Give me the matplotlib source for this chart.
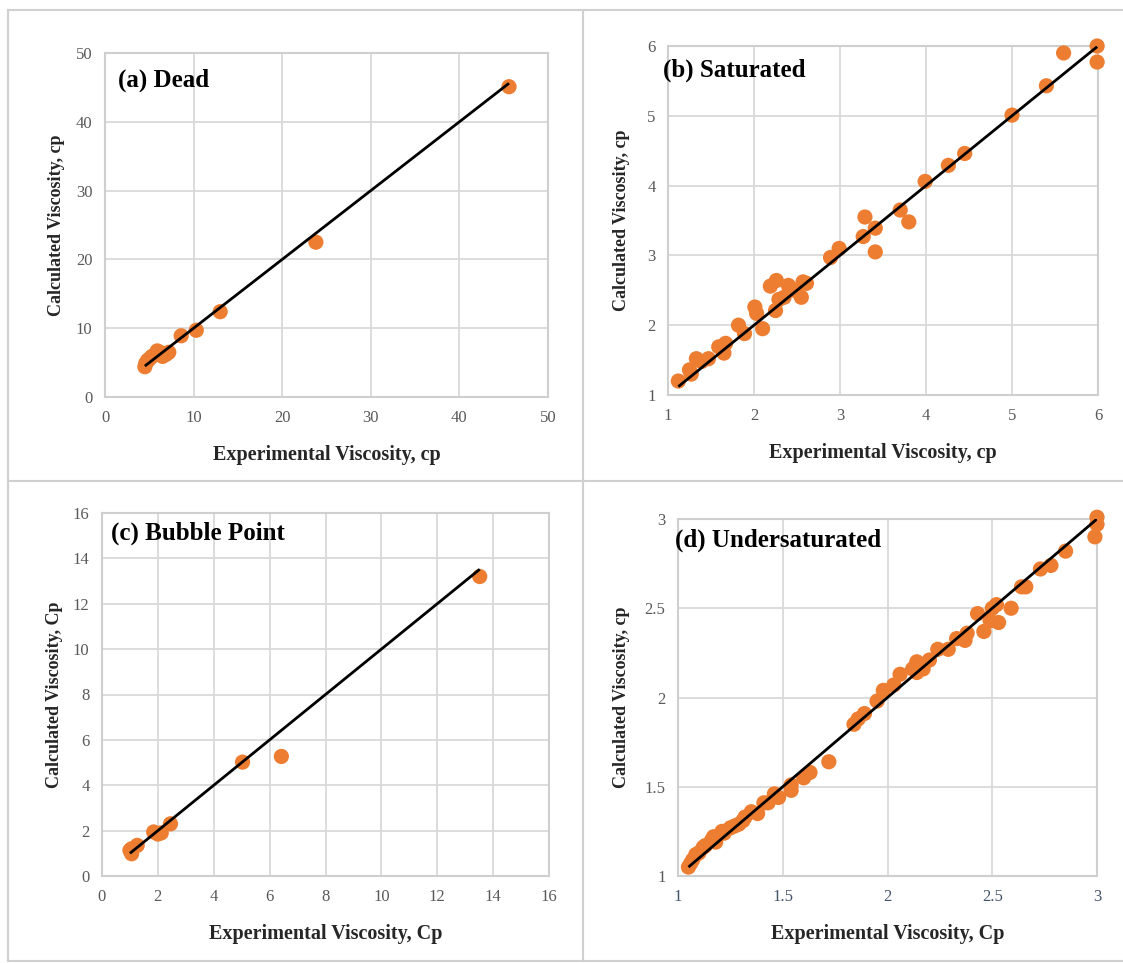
import matplotlib
matplotlib.use("Agg")
import matplotlib.pyplot as plt
from matplotlib.lines import Line2D
import numpy as np

plt.rcParams['font.family'] = ['Liberation Serif', 'DejaVu Serif']

# ---------------- data ----------------
dead_exp = [4.5, 4.6, 4.8, 5.0, 5.3, 5.6, 5.9, 6.2, 6.5, 6.9, 7.2, 8.6, 10.3, 13.0, 23.8, 45.6]
dead_calc = [4.4, 4.9, 5.3, 5.5, 5.9, 6.1, 6.7, 6.5, 5.9, 6.2, 6.5, 8.9, 9.7, 12.4, 22.5, 45.1]

sat_exp = [1.12, 1.25, 1.27, 1.33, 1.39, 1.47, 1.59, 1.65, 1.67, 1.82, 1.89, 2.01, 2.03,
           2.10, 2.19, 2.26, 2.25, 2.29, 2.35, 2.40, 2.47, 2.55, 2.57, 2.61, 2.89, 2.99,
           3.27, 3.29, 3.41, 3.41, 3.70, 3.80, 3.99, 4.26, 4.45, 5.00, 5.40, 5.60, 5.99, 5.99]
sat_calc = [1.20, 1.36, 1.30, 1.52, 1.48, 1.52, 1.69, 1.60, 1.74, 2.00, 1.88, 2.26, 2.17,
            1.95, 2.56, 2.64, 2.21, 2.37, 2.40, 2.57, 2.50, 2.40, 2.62, 2.60, 2.97, 3.10,
            3.27, 3.55, 3.39, 3.05, 3.65, 3.48, 4.06, 4.29, 4.46, 5.01, 5.43, 5.90, 6.00, 5.77]

bub_exp = [1.00, 1.06, 1.06, 1.26, 1.85, 2.00, 2.12, 2.45, 5.03, 6.42, 13.52]
bub_calc = [1.13, 1.20, 0.98, 1.35, 1.94, 1.85, 1.90, 2.30, 5.02, 5.27, 13.20]

und_exp = [1.05, 1.06, 1.07, 1.085, 1.10, 1.12, 1.13, 1.16, 1.17, 1.18, 1.21, 1.22, 1.25,
           1.27, 1.29, 1.31, 1.32, 1.35, 1.38, 1.41, 1.43, 1.46, 1.48, 1.54, 1.54, 1.60,
           1.63, 1.72, 1.84, 1.86, 1.89, 1.95, 1.98, 2.03, 2.06, 2.12, 2.14, 2.14, 2.17,
           2.20, 2.24, 2.29, 2.33, 2.37, 2.38, 2.43, 2.46, 2.49, 2.50, 2.52, 2.53, 2.59,
           2.64, 2.66, 2.73, 2.78, 2.85, 2.99, 3.00, 3.00]
und_calc = [1.05, 1.07, 1.09, 1.12, 1.13, 1.16, 1.17, 1.20, 1.22, 1.19, 1.25, 1.24, 1.27,
            1.28, 1.29, 1.31, 1.33, 1.36, 1.35, 1.41, 1.41, 1.46, 1.44, 1.51, 1.48, 1.55,
            1.58, 1.64, 1.85, 1.88, 1.91, 1.98, 2.04, 2.07, 2.13, 2.16, 2.20, 2.14, 2.16,
            2.21, 2.27, 2.27, 2.33, 2.32, 2.36, 2.47, 2.37, 2.43, 2.50, 2.52, 2.42, 2.50,
            2.62, 2.62, 2.72, 2.74, 2.82, 2.90, 2.97, 3.01]

panels = [
    dict(exp=dead_exp, calc=dead_calc, title="(a) Dead", lim=(0, 50), ticks=[0, 10, 20, 30, 40, 50],
         tlabels=["0", "10", "20", "30", "40", "50"],
         xlabel="Experimental Viscosity, cp", ylabel="Calculated Viscosity, cp",
         box=(105, 548, 53, 397), tpos=(0.03, 0.92), ypad=7.5),
    dict(exp=sat_exp, calc=sat_calc, title="(b) Saturated", lim=(1, 6), ticks=[1, 2, 3, 4, 5, 6],
         tlabels=["1", "2", "3", "4", "5", "6"],
         xlabel="Experimental Viscosity, cp", ylabel="Calculated Viscosity, cp",
         box=(668, 1098, 46, 395), tpos=(-0.012, 0.93), ypad=12),
    dict(exp=bub_exp, calc=bub_calc, title="(c) Bubble Point", lim=(0, 16), ticks=[0, 2, 4, 6, 8, 10, 12, 14, 16],
         tlabels=["0", "2", "4", "6", "8", "10", "12", "14", "16"],
         xlabel="Experimental Viscosity, Cp", ylabel="Calculated Viscosity, Cp",
         box=(102, 549, 513, 876), tpos=(0.02, 0.945), ypad=7),
    dict(exp=und_exp, calc=und_calc, title="(d) Undersaturated", lim=(1, 3), ticks=[1, 1.5, 2, 2.5, 3],
         tlabels=["1", "1.5", "2", "2.5", "3"],
         xlabel="Experimental Viscosity, Cp", ylabel="Calculated Viscosity, cp",
         box=(678, 1097, 519, 876), tpos=(-0.007, 0.94), ypad=10.5),
]

W, H = 1123, 963
fig = plt.figure(figsize=(W / 100, H / 100), dpi=100)
fig.patch.set_facecolor("white")

# outer table frame / dividers
frame_c = "#d0d0d0"
for (x0, y0, x1, y1) in [(8, 10, W, 10), (8, 961, W, 961), (8, 10, 8, 961),
                         (583, 10, 583, 961), (8, 481, W, 481)]:
    fig.add_artist(Line2D([x0 / W, x1 / W], [1 - y0 / H, 1 - y1 / H],
                          transform=fig.transFigure, color=frame_c, lw=1.5))

orange = "#ED7D31"
grid_c = "#d9d9d9"
tick_c = "#595959"

for i, p in enumerate(panels):
    l, r, t, b = p["box"]
    ax = fig.add_axes([l / W, 1 - b / H, (r - l) / W, (b - t) / H])
    ax.set_xlim(*p["lim"])
    ax.set_ylim(*p["lim"])
    ax.set_xticks(p["ticks"])
    ax.set_yticks(p["ticks"])
    ax.set_xticklabels(p["tlabels"])
    ax.set_yticklabels(p["tlabels"])
    ax.grid(True, color=grid_c, lw=1.3)
    ax.set_axisbelow(True)
    for s in ax.spines.values():
        s.set_color("#cfcfcf")
        s.set_linewidth(1.5)
    xc = "#44546A" if i == 3 else tick_c
    ax.tick_params(axis="x", length=0, pad=9, labelsize=12, labelcolor=xc)
    ax.tick_params(axis="y", length=0, pad=9, labelsize=12, labelcolor=tick_c)
    ax.scatter(p["exp"], p["calc"], s=120, color=orange, edgecolors="none", zorder=3, clip_on=False)
    lo, hi = min(p["exp"]), max(p["exp"])
    ax.plot([lo, hi], [lo, hi], color="black", lw=2, zorder=4, solid_capstyle="butt")
    ax.set_xlabel(p["xlabel"], fontsize=14.5, fontweight="bold", color="#262626", labelpad=14)
    ax.set_ylabel(p["ylabel"], fontsize=13, fontweight="bold", color="#262626", labelpad=p["ypad"])
    ax.text(p["tpos"][0], p["tpos"][1], p["title"], transform=ax.transAxes, fontsize=18,
            fontweight="bold", color="black", va="center", ha="left")

fig.savefig("out.png", dpi=100)
